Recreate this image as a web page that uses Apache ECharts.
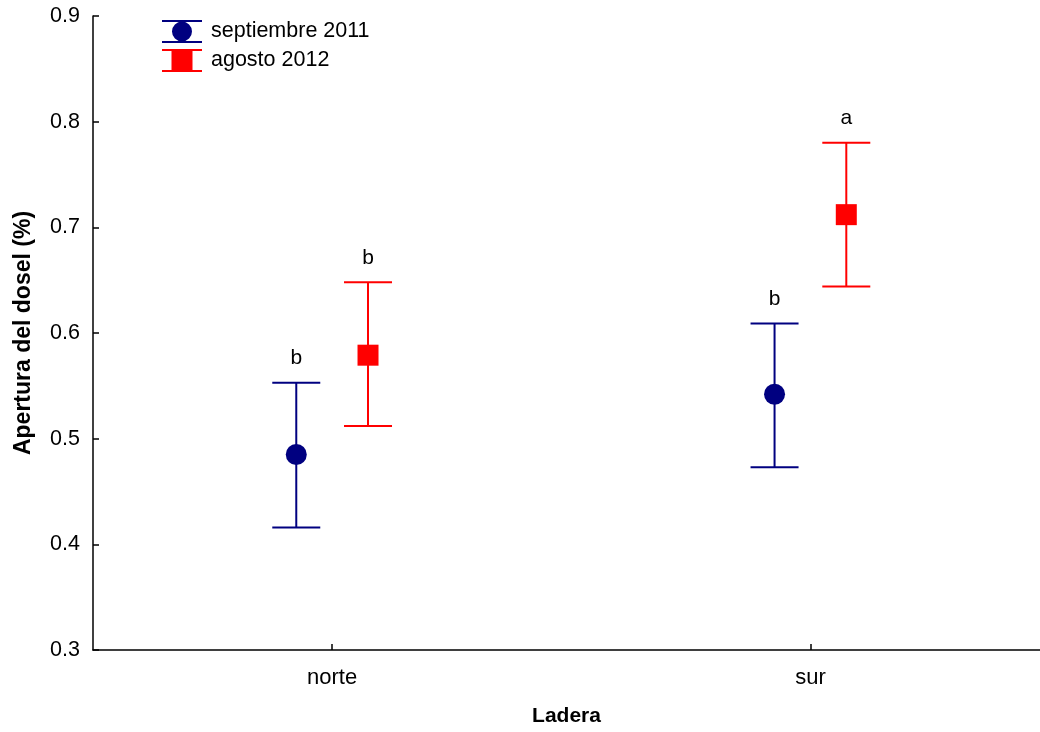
<!DOCTYPE html>
<html>
<head>
<meta charset="utf-8">
<script src="https://cdn.jsdelivr.net/npm/echarts@6/dist/echarts.min.js"></script>
<style>
  html, body { margin: 0; padding: 0; background: #fff; }
  #chart { width: 1040px; height: 732px; }
</style>
</head>
<body>
<div id="chart"></div>
<script>
// datos
const categories = ["norte", "sur"];
const seriesNames = ["septiembre 2011", "agosto 2012"];
const sepMean = [0.485, 0.542];
const sepLow = [0.416, 0.473];
const sepHigh = [0.553, 0.609];
const sepLetters = ["b", "b"];
const agoMean = [0.579, 0.712];
const agoLow = [0.512, 0.644];
const agoHigh = [0.648, 0.780];
const agoLetters = ["b", "a"];
const yTicks = [0.3, 0.4, 0.5, 0.6, 0.7, 0.8, 0.9];

const FONT = "Liberation Sans, Arial, sans-serif";
const catPos = categories.map((c, i) => i + 0.5);
const offset = 0.075;

function buildData(mean, low, high, letters, shift) {
  return mean.map((m, i) => [catPos[i] + shift, m, low[i], high[i], letters[i]]);
}

function errorItem(shape, color) {
  return function (params, api) {
    const x = api.value(0);
    const c = api.coord([x, api.value(1)]);
    const lo = api.coord([x, api.value(2)]);
    const hi = api.coord([x, api.value(3)]);
    const cap = 24;
    const line = { stroke: color, lineWidth: 2 };
    const marker = shape === "circle"
      ? { type: "circle", shape: { cx: c[0], cy: c[1], r: 10.5 }, style: { fill: color } }
      : { type: "rect", shape: { x: c[0] - 10.5, y: c[1] - 10.5, width: 21, height: 21 }, style: { fill: color } };
    return {
      type: "group",
      children: [
        { type: "line", shape: { x1: lo[0], y1: lo[1], x2: hi[0], y2: hi[1] }, style: line },
        { type: "line", shape: { x1: lo[0] - cap, y1: lo[1], x2: lo[0] + cap, y2: lo[1] }, style: line },
        { type: "line", shape: { x1: hi[0] - cap, y1: hi[1], x2: hi[0] + cap, y2: hi[1] }, style: line },
        marker,
        {
          type: "text",
          style: {
            text: api.value(4), x: hi[0], y: hi[1] - 14,
            align: "center", verticalAlign: "bottom",
            font: "21px " + FONT, fill: "#000"
          }
        }
      ]
    };
  };
}

const chart = echarts.init(document.getElementById("chart"));
chart.setOption({
  backgroundColor: "#fff",
  animation: false,
  grid: { left: 93, right: 0, top: 16, bottom: 79 },
  legend: {
    orient: "vertical",
    left: 162,
    top: 20,
    padding: 0,
    itemWidth: 40,
    itemHeight: 23,
    itemGap: 6,
    textStyle: { fontFamily: FONT, fontSize: 21.5, color: "#000", padding: [0, 0, 0, 4] },
    data: [
      { name: seriesNames[0], icon: "path://M0,0H40V2H0ZM0,21H40V23H0ZM19,0H21V23H19ZM20,1.5A10,10 0 1 1 19.99,1.5Z", itemStyle: { color: "#000080" } },
      { name: seriesNames[1], icon: "path://M0,0H40V2H0ZM0,21H40V23H0ZM19,0H21V23H19ZM9.5,1.5H30.5V21.5H9.5Z", itemStyle: { color: "#ff0000" } }
    ]
  },
  xAxis: {
    type: "value",
    min: 0,
    max: 1.98,
    name: "Ladera",
    nameLocation: "middle",
    nameGap: 56,
    nameTextStyle: { fontFamily: FONT, fontSize: 21, fontWeight: "bold", color: "#000" },
    axisLine: { lineStyle: { color: "#000", width: 1.5 } },
    axisTick: { inside: true, length: 6, customValues: catPos, lineStyle: { color: "#000", width: 1.5 } },
    axisLabel: {
      customValues: catPos,
      margin: 17,
      fontFamily: FONT, fontSize: 22, color: "#000",
      formatter: v => categories[Math.round(v - 0.5)] || ""
    },
    splitLine: { show: false }
  },
  yAxis: {
    type: "value",
    min: yTicks[0],
    max: yTicks[yTicks.length - 1],
    interval: 0.1,
    name: "Apertura del dosel (%)",
    nameLocation: "middle",
    nameGap: 58,
    nameTextStyle: { fontFamily: FONT, fontSize: 23, fontWeight: "bold", color: "#000" },
    axisLine: { show: true, lineStyle: { color: "#000", width: 1.5 } },
    axisTick: { show: true, inside: true, length: 6, lineStyle: { color: "#000", width: 1.5 } },
    axisLabel: {
      margin: 13,
      fontFamily: FONT, fontSize: 21.5, color: "#000",
      formatter: v => v.toFixed(1)
    },
    splitLine: { show: false }
  },
  series: [
    {
      name: seriesNames[0],
      type: "custom",
      itemStyle: { color: "#000080" },
      renderItem: errorItem("circle", "#000080"),
      data: buildData(sepMean, sepLow, sepHigh, sepLetters, -offset)
    },
    {
      name: seriesNames[1],
      type: "custom",
      itemStyle: { color: "#ff0000" },
      renderItem: errorItem("square", "#ff0000"),
      data: buildData(agoMean, agoLow, agoHigh, agoLetters, offset)
    }
  ]
});
</script>
</body>
</html>
